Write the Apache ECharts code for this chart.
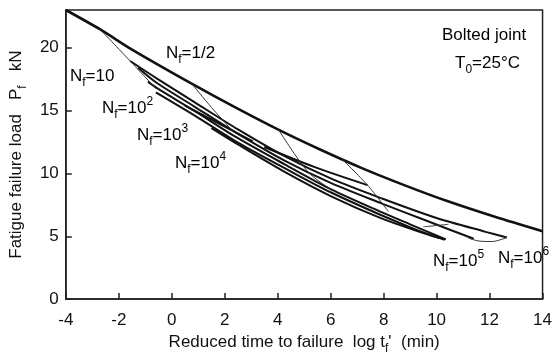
<!DOCTYPE html>
<html>
<head>
<meta charset="utf-8">
<script src="https://cdn.jsdelivr.net/npm/echarts@6/dist/echarts.min.js"></script>
<style>
  html, body { margin: 0; background: #fff; }
  #chart { width: 555px; height: 360px; }
</style>
</head>
<body>
<div id="chart"></div>
<script>
// axis ranges: [min, max, interval]
const xRange = [-4, 14, 2];
const yRange = [0, 23, 5];

// thick curves: [log t_f', P_f]
const staticCurve = [[-4, 23], [-2.7, 21.45], [-1.5, 19.85], [0.7, 17.2], [2.4, 15.25], [4.1, 13.4],
  [5.6, 11.9], [7.2, 10.4], [8.8, 9.05], [10.4, 7.8], [12.2, 6.55], [14, 5.4]];
const curveA = [[-1.57, 18.94], [-0.6, 17.6], [0.87, 15.65], [2.5, 13.5], [4.28, 11.35], [6, 9.6],
  [7.94, 8.0], [10, 6.45], [11.85, 5.35], [12.65, 4.9]];
const curveB = [[-1.27, 18.4], [-0.6, 17.25], [0.87, 15.3], [2.5, 13.15], [4.28, 11.0], [6, 9.25],
  [7.94, 7.6], [9.6, 6.25], [11.4, 4.8]];
const curveC = [[-0.9, 17.3], [-0.6, 16.84], [0.87, 14.95], [2.5, 12.8], [4.28, 10.7], [6, 8.75],
  [7.94, 6.9], [9, 5.95], [10.35, 4.75]];
const curveD = [[-0.6, 16.45], [0.87, 14.6], [2.5, 12.45], [4.28, 10.4], [6, 8.5], [7.94, 6.65],
  [9.2, 5.55], [10.3, 4.72]];
const curveE = [[0.5, 15.39], [1.8, 13.95], [3.06, 12.55]];
const curveF = [[1.5, 13.6], [2.5, 12.3], [4.28, 10.1], [6, 8.2], [7.94, 6.4], [9.3, 5.4], [10.1, 4.85]];
const curveG = [[3.49, 12.1], [5.4, 10.5], [7.39, 9.07]];

// thin connecting lines
const thin1 = [[-2.7, 21.45], [-1.57, 18.94], [-0.6, 16.75]];
const thin2 = [[0.75, 17.15], [1.5, 15.25], [2.33, 13.3]];
const thin3 = [[4.04, 13.45], [5.14, 10.13], [6.05, 8.67]];
const thin4 = [[6.42, 11.16], [7.39, 9.07], [8.18, 6.97]];
const thin5 = [[11.2, 4.85], [11.6, 4.62], [12.1, 4.58], [12.65, 4.9]];
const thin6 = [[9.5, 5.75], [10.45, 5.95]];

const thickCurves = [staticCurve, curveA, curveB, curveC, curveD, curveE, curveF, curveG];
const thinCurves = [thin1, thin2, thin3, thin4, thin5, thin6];

const FONT = "'Liberation Sans', Arial, Helvetica, sans-serif";
const ink = "#111";

const rich = {
  n: { fontSize: 17, fontFamily: FONT, color: ink, lineHeight: 25 },
  sub: { fontSize: 12, fontFamily: FONT, color: ink, verticalAlign: "bottom" },
  sup: { fontSize: 12, fontFamily: FONT, color: ink, verticalAlign: "top" },
};

function label(x, y, text) {
  return {
    type: "text",
    x: x,
    y: y,
    silent: true,
    style: { text: text, rich: rich, align: "left", verticalAlign: "middle" },
  };
}

const chart = echarts.init(document.getElementById("chart"));

const series = [];
thickCurves.forEach((c, i) => {
  series.push({
    type: "line",
    data: c,
    smooth: 0.3,
    symbol: "none",
    lineStyle: { color: ink, width: i === 0 ? 2.6 : 2 },
  });
});
thinCurves.forEach((c) => {
  series.push({
    type: "line",
    data: c,
    smooth: 0.3,
    symbol: "none",
    lineStyle: { color: "#333", width: 1 },
  });
});

chart.setOption({
  animation: false,
  grid: {
    left: 57, right: 6, top: 10, bottom: 59,
    show: true, borderColor: "#222", borderWidth: 1.5,
  },
  xAxis: {
    type: "value",
    min: xRange[0], max: xRange[1], interval: xRange[2],
    axisLine: { onZero: false, lineStyle: { color: "#222", width: 1.5 } },
    axisTick: { inside: true, length: 6, lineStyle: { color: "#222", width: 1.5 } },
    axisLabel: { color: ink, fontSize: 17, fontFamily: FONT, margin: 13 },
    splitLine: { show: false },
    name: "{n|Reduced time to failure  log t}{sub|f}{n|'  (min)}",
    nameLocation: "middle",
    nameGap: 30,
    nameTextStyle: { rich: rich },
  },
  yAxis: {
    type: "value",
    min: yRange[0], max: yRange[1], interval: yRange[2],
    axisLine: { onZero: false, lineStyle: { color: "#222", width: 1.5 } },
    axisTick: { inside: true, length: 6, lineStyle: { color: "#222", width: 1.5 } },
    axisLabel: { color: ink, fontSize: 17, fontFamily: FONT, margin: 7, showMaxLabel: false },
    splitLine: { show: false },
    name: "{n|Fatigue failure load   P}{sub|f}{n|   kN}",
    nameLocation: "middle",
    nameGap: 34,
    nameTextStyle: { rich: rich },
  },
  graphic: [
    label(166, 53, "{n|N}{sub|f}{n|=1/2}"),
    label(70, 76, "{n|N}{sub|f}{n|=10}"),
    label(102, 108, "{n|N}{sub|f}{n|=10}{sup|2}"),
    label(137, 135, "{n|N}{sub|f}{n|=10}{sup|3}"),
    label(175, 163, "{n|N}{sub|f}{n|=10}{sup|4}"),
    label(433, 261, "{n|N}{sub|f}{n|=10}{sup|5}"),
    label(498, 258, "{n|N}{sub|f}{n|=10}{sup|6}"),
    label(442, 35, "{n|Bolted joint}"),
    label(455, 63, "{n|T}{sub|0}{n|=25°C}"),
  ],
  series: series,
});
</script>
</body>
</html>
